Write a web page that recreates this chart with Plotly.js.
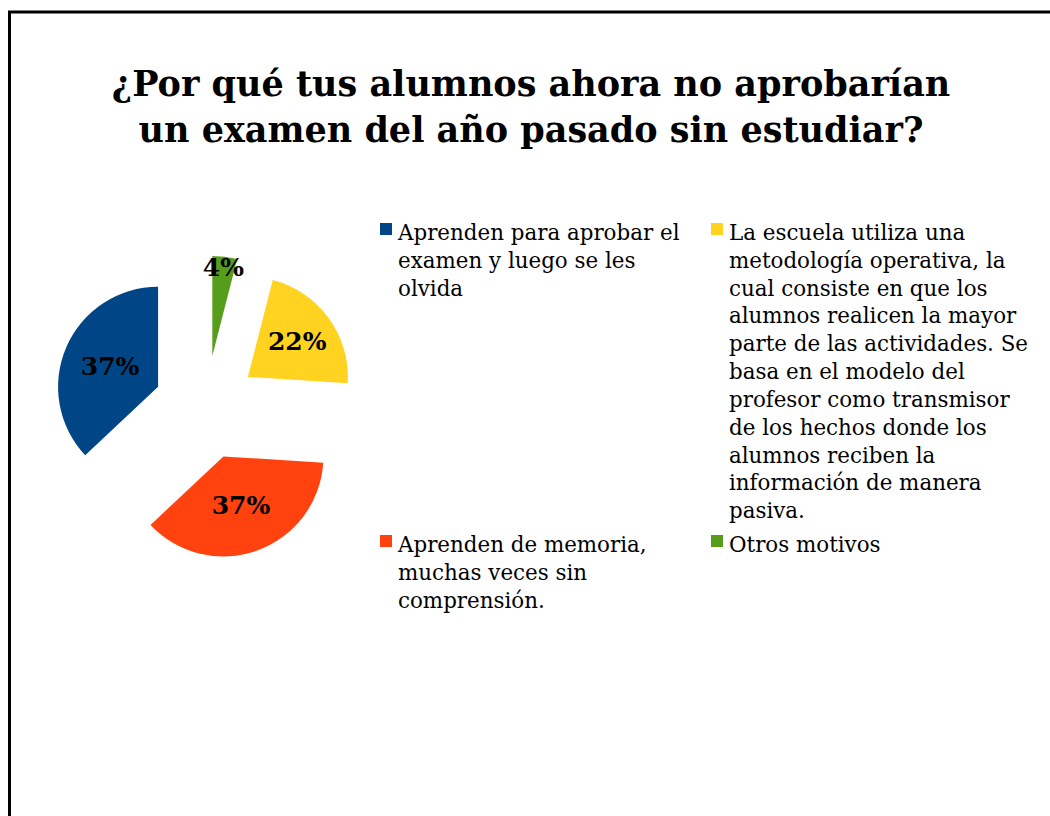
<!DOCTYPE html>
<html>
<head>
<meta charset="utf-8">
<script src="https://cdn.plot.ly/plotly-3.0.1.min.js"></script>
<style>html,body{margin:0;padding:0;background:#fff;}#chart{width:1050px;height:816px;}</style>
</head>
<body>
<div id="chart"></div>
<script>
// ---- data ----
var categories = [
  "Aprenden para aprobar el examen y luego se les olvida",
  "Aprenden de memoria, muchas veces sin comprensión.",
  "La escuela utiliza una metodología operativa, la cual consiste en que los alumnos realicen la mayor parte de las actividades. Se basa en el modelo del profesor como transmisor de los hechos donde los alumnos reciben la información de manera pasiva.",
  "Otros motivos"
];
var shares = [37, 37, 22, 4];
var colors = ["#004586", "#ff420e", "#ffd320", "#579d1c"];
var legendLines = [
  ["Aprenden para aprobar el", "examen y luego se les", "olvida"],
  ["Aprenden de memoria,", "muchas veces sin", "comprensión."],
  ["La escuela utiliza una", "metodología operativa, la", "cual consiste en que los", "alumnos realicen la mayor", "parte de las actividades. Se", "basa en el modelo del", "profesor como transmisor", "de los hechos donde los", "alumnos reciben la", "información de manera", "pasiva."],
  ["Otros motivos"]
];
var titleText = "¿Por qué tus alumnos ahora no aprobarían<br>un examen del año pasado sin estudiar?";

// ---- layout helpers ----
var W = 1050, H = 816;
function xp(px) { return px / W; }
function yp(py) { return 1 - py / H; }

// first slice ends at 12 o'clock, the rest follow counterclockwise
var total = shares.reduce(function (a, b) { return a + b; }, 0);
var startRotation = -360 * shares[0] / total;

// legend slots (column-major like the original): [text left x, first line top y]
var slots = [[395, 218], [395, 530], [727, 218], [727, 530]];
var sqX = [380, 380, 711, 711];
var sq = 12;

var annotations = [];
var shapes = [];
legendLines.forEach(function (lines, i) {
  var s = slots[i];
  annotations.push({
    xref: 'paper', yref: 'paper', x: xp(s[0]), y: yp(s[1]),
    xanchor: 'left', yanchor: 'top', align: 'left', showarrow: false,
    text: lines.join('<br>'),
    font: {family: 'DejaVu Serif', size: 21.4, color: '#000'}
  });
  shapes.push({
    type: 'rect', xref: 'paper', yref: 'paper',
    x0: xp(sqX[i]), x1: xp(sqX[i] + sq),
    y0: yp(s[1] + 5), y1: yp(s[1] + 5 + sq),
    fillcolor: colors[i], line: {width: 0}
  });
});
// page frame
shapes.push({
  type: 'rect', xref: 'paper', yref: 'paper',
  x0: xp(9.5), x1: xp(W + 20), y0: yp(H + 20), y1: yp(12),
  line: {color: '#000', width: 3}, fillcolor: 'rgba(0,0,0,0)'
});

var trace = {
  type: 'pie',
  labels: categories,
  values: shares,
  sort: false,
  direction: 'counterclockwise',
  rotation: startRotation,
  pull: 0.52,
  marker: {colors: colors, line: {width: 0}},
  domain: {x: [xp(53.8), xp(357.8)], y: [yp(559.5), yp(255.5)]},
  textinfo: 'percent',
  textposition: 'inside',
  insidetextorientation: 'horizontal',
  textfont: {family: 'DejaVu Serif', size: 25, color: '#000', weight: 'bold'},
  hoverinfo: 'label+percent',
  showlegend: false
};

var layout = {
  width: W, height: H, autosize: false,
  margin: {l: 0, r: 0, t: 0, b: 0},
  paper_bgcolor: '#fff', plot_bgcolor: '#fff',
  showlegend: false,
  uniformtext: {mode: 'show', minsize: 25},
  title: {
    text: titleText,
    font: {family: 'DejaVu Serif', size: 35, color: '#000', weight: 'bold'},
    x: xp(531), xanchor: 'center', xref: 'paper',
    y: yp(96), yanchor: 'top', yref: 'container'
  },
  annotations: annotations,
  shapes: shapes
};

Plotly.newPlot('chart', [trace], layout, {displayModeBar: false, staticPlot: true});
</script>
</body>
</html>
